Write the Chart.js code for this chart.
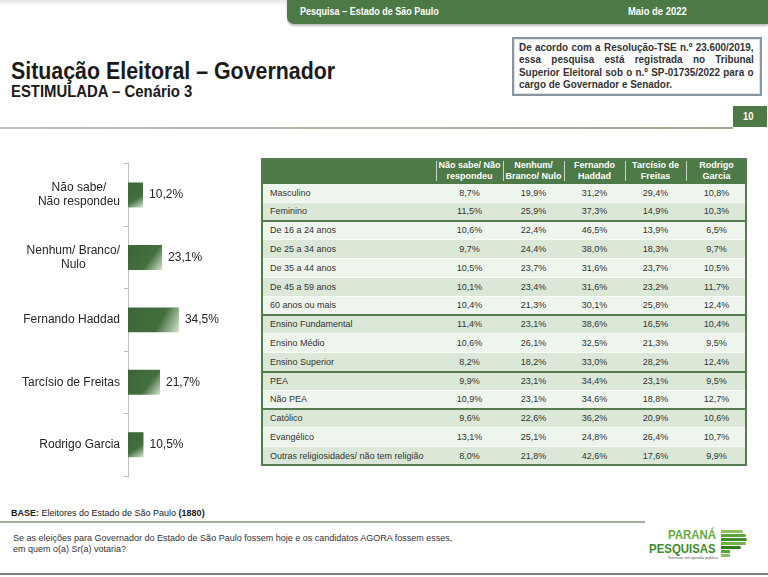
<!DOCTYPE html>
<html lang="pt-BR">
<head>
<meta charset="utf-8">
<script src="https://cdn.jsdelivr.net/npm/chart.js@4.4.1/dist/chart.umd.min.js"></script>
<style>
  html, body { margin:0; padding:0; }
  body { width:768px; height:577px; position:relative; overflow:hidden; background:#fff;
         font-family:"Liberation Sans", Arial, sans-serif; color:#262626; }
  .abs { position:absolute; }
  .nar { position:absolute; white-space:nowrap; transform:scaleX(0.82); transform-origin:left top; }
  .bx { position:absolute; white-space:nowrap; font-size:11px; font-weight:bold; line-height:11px; color:#333;
        transform:scaleX(0.9); transform-origin:left top; }
</style>
</head>
<body>
<!-- top -->
<div class="abs" style="left:0;top:0;width:768px;height:6px;background:linear-gradient(#e4e4e4,#fff);"></div>
<div class="abs" style="left:287px;top:0;width:481px;height:24px;background:#4d7946;border-bottom-left-radius:7px;box-shadow:0 2px 2px rgba(0,0,0,0.25);"></div>
<div class="nar" style="left:300px;top:5px;font-size:11px;font-weight:bold;color:#fff;line-height:13px;">Pesquisa – Estado de São Paulo</div>
<div class="nar" style="left:628px;top:5px;font-size:11.5px;font-weight:bold;color:#fff;line-height:13px;">Maio de 2022</div>

<div class="abs" style="left:11px;top:59px;font-size:24px;font-weight:bold;color:#1a1a1a;line-height:24px;white-space:nowrap;transform:scaleX(0.89);transform-origin:left top;">Situação Eleitoral – Governador</div>
<div class="abs" style="left:11px;top:84px;font-size:16px;font-weight:bold;color:#1a1a1a;line-height:16px;white-space:nowrap;transform:scaleX(0.93);transform-origin:left top;">ESTIMULADA – Cenário 3</div>

<div class="abs" style="left:512px;top:37px;width:250px;height:59px;box-sizing:border-box;border:2px solid #8894a0;box-shadow:inset 0 0 0 1px #dde2e7;"></div>
<div id="boxtext"></div>

<div class="abs" style="left:733px;top:106px;width:34px;height:21px;background:#4d7946;"></div>
<div class="nar" style="left:743px;top:110px;font-size:11.5px;font-weight:bold;color:#fff;line-height:13px;">10</div>
<div class="abs" style="left:0;top:127px;width:733px;height:2px;background:linear-gradient(to right,#bcc5b5,#9ca892);"></div>

<canvas id="c" width="260" height="330" style="position:absolute;left:0;top:150px;"></canvas>

<div id="tbl"></div>

<div class="abs" style="left:11px;top:508px;font-size:9px;line-height:11px;color:#1a1a1a;white-space:nowrap;"><b>BASE:</b> Eleitores do Estado de São Paulo <b>(1880)</b></div>
<div class="abs" style="left:0;top:521px;width:645px;height:2px;background:#a3b09a;"></div>
<div class="abs" style="left:13px;top:533px;font-size:9px;line-height:11px;color:#333;white-space:nowrap;">Se as eleições para Governador do Estado de São Paulo fossem hoje e os candidatos AGORA fossem esses,<br>em quem o(a) Sr(a) votaria?</div>

<!-- logo -->
<div class="abs" style="left:668px;top:528.5px;font-size:13px;font-weight:bold;color:#69a846;line-height:11px;white-space:nowrap;transform:scaleX(0.88);transform-origin:left top;">PARANÁ</div>
<div class="abs" style="left:649px;top:543px;font-size:13px;font-weight:bold;color:#3f8a2c;line-height:11px;white-space:nowrap;transform:scaleX(0.88);transform-origin:left top;">PESQUISAS</div>
<div class="abs" style="left:668px;top:556px;font-size:4px;line-height:4px;color:#555;white-space:nowrap;">Sucesso em opinião pública.</div>
<div class="abs" style="left:721px;top:530px;width:22px;height:3px;background:#8cc063;border-radius:0 2px 2px 0;"></div>
<div class="abs" style="left:721px;top:534px;width:25px;height:3px;background:#5aa23a;border-radius:0 3px 3px 0;"></div>
<div class="abs" style="left:721px;top:538px;width:26px;height:3px;background:#3f8a2c;border-radius:0 3px 3px 0;"></div>
<div class="abs" style="left:721px;top:542px;width:25px;height:3px;background:#74b24f;border-radius:0 3px 3px 0;"></div>
<div class="abs" style="left:721px;top:546px;width:20px;height:3px;background:#2f7a24;border-radius:0 2px 2px 0;"></div>
<div class="abs" style="left:721px;top:550px;width:9px;height:3px;background:#5aa23a;"></div>
<div class="abs" style="left:721px;top:554px;width:9px;height:3px;background:#8cc063;"></div>

<div class="abs" style="left:0;top:573px;width:768px;height:2px;background:#7f7f7f;"></div>

<script>
// ---------- bar chart data ----------
const categories = [["Não sabe/", "Não respondeu"], ["Nenhum/ Branco/", "Nulo"], ["Fernando Haddad"], ["Tarcísio de Freitas"], ["Rodrigo Garcia"]];
const totals = [10.2, 23.1, 34.5, 21.7, 10.5];

// ---------- table data ----------
const colHeaders = [["Não sabe/ Não", "respondeu"], ["Nenhum/", "Branco/ Nulo"], ["Fernando", "Haddad"], ["Tarcísio de", "Freitas"], ["Rodrigo", "Garcia"]];
const segments = ["Masculino", "Feminino", "De 16 a 24 anos", "De 25 a 34 anos", "De 35 a 44 anos", "De 45 a 59 anos", "60 anos ou mais",
  "Ensino Fundamental", "Ensino Médio", "Ensino Superior", "PEA", "Não PEA", "Católico", "Evangélico", "Outras religiosidades/ não tem religião"];
const naoSabe  = [8.7, 11.5, 10.6, 9.7, 10.5, 10.1, 10.4, 11.4, 10.6, 8.2, 9.9, 10.9, 9.6, 13.1, 8.0];
const nenhum   = [19.9, 25.9, 22.4, 24.4, 23.7, 23.4, 21.3, 23.1, 26.1, 18.2, 23.1, 23.1, 22.6, 25.1, 21.8];
const haddad   = [31.2, 37.3, 46.5, 38.0, 31.6, 31.6, 30.1, 38.6, 32.5, 33.0, 34.4, 34.6, 36.2, 24.8, 42.6];
const tarcisio = [29.4, 14.9, 13.9, 18.3, 23.7, 23.2, 25.8, 16.5, 21.3, 28.2, 23.1, 18.8, 20.9, 26.4, 17.6];
const garcia   = [10.8, 10.3, 6.5, 9.7, 10.5, 11.7, 12.4, 10.4, 9.5, 12.4, 9.5, 12.7, 10.6, 10.7, 9.9];
const groupEnds = [1, 6, 9, 11];

const boxLines = ["De acordo com a Resolução-TSE n.º 23.600/2019,", "essa pesquisa está registrada no Tribunal",
  "Superior Eleitoral sob o n.º SP-01735/2022 para o", "cargo de Governador e Senador."];

const fmt = v => v.toFixed(1).replace('.', ',') + '%';

// ---------- registration box (justified lines) ----------
(function buildBox() {
  const host = document.getElementById('boxtext');
  const left = 519, top = 42, lh = 12.4, target = 235 / 0.9;
  boxLines.forEach((t, k) => {
    const d = document.createElement('div');
    d.className = 'bx';
    d.style.left = left + 'px';
    d.style.top = (top + k * lh) + 'px';
    d.textContent = t;
    host.appendChild(d);
    if (k < boxLines.length - 1) {
      const w = d.offsetWidth;
      const n = (t.match(/ /g) || []).length;
      d.style.wordSpacing = ((target - w) / n) + 'px';
    }
  });
})();

// ---------- table layout ----------
(function buildTable() {
  const host = document.getElementById('tbl');
  const X0 = 261, Y0 = 158, HH = 25.5, RH = 18.8;
  const colX = [261, 436, 503, 564, 625, 686, 747];
  const W = colX[6] - X0;
  const shade = ['L','D','L','D','L','D','L','D','L','D','D','L','D','L','D'];
  const cols = [naoSabe, nenhum, haddad, tarcisio, garcia];
  const add = (style, html) => { const d = document.createElement('div'); d.className = 'abs'; d.style.cssText = style; if (html != null) d.innerHTML = html; host.appendChild(d); return d; };

  add(`left:${X0}px;top:${Y0}px;width:${W}px;height:${HH}px;background:#4e7a47;`);
  for (let j = 0; j < 5; j++) {
    add(`left:${colX[j+1]-0.5}px;top:${Y0+3}px;width:1px;height:${HH-6}px;background:#c9d5c5;`);
    add(`left:${colX[j+1]}px;top:${Y0 + (HH-21)/2}px;width:${colX[j+2]-colX[j+1]}px;text-align:center;font-size:9px;line-height:10.5px;font-weight:bold;color:#fff;white-space:nowrap;`,
      colHeaders[j].join('<br>'));
  }
  segments.forEach((s, i) => {
    const y = Y0 + HH + i * RH;
    add(`left:${X0}px;top:${y}px;width:${W}px;height:${RH}px;background:${shade[i]==='L' ? '#eef5ec' : '#dbe8d7'};`);
    if (i > 0) add(`left:${X0}px;top:${y-0.5}px;width:${W}px;height:1px;background:#fafcf9;`);
    add(`left:${X0+9}px;top:${y}px;line-height:${RH}px;font-size:9px;color:#333;white-space:nowrap;`, s);
    cols.forEach((arr, j) => {
      add(`left:${colX[j+1]}px;top:${y}px;width:${colX[j+2]-colX[j+1]}px;line-height:${RH}px;text-align:center;font-size:9px;color:#333;`, fmt(arr[i]));
    });
  });
  groupEnds.forEach(g => {
    const y = Y0 + HH + (g + 1) * RH;
    add(`left:${X0}px;top:${y-1}px;width:${W}px;height:2px;background:#557b4f;`);
  });
  const H = HH + segments.length * RH;
  add(`left:${X0}px;top:${Y0}px;width:${W}px;height:${H}px;box-sizing:border-box;border:2px solid #557b4f;`);
})();

// ---------- chart ----------
const valueLabels = {
  id: 'valueLabels',
  afterDatasetsDraw(chart) {
    const c = chart.ctx;
    const meta = chart.getDatasetMeta(0);
    c.save();
    c.font = '12px "Liberation Sans", Arial, sans-serif';
    c.fillStyle = '#262626';
    c.textAlign = 'left';
    c.textBaseline = 'middle';
    meta.data.forEach((el, i) => c.fillText(fmt(chart.data.datasets[0].data[i]), el.x + 6, el.y));
    c.restore();
  }
};
const catLabels = {
  id: 'catLabels',
  afterDraw(chart) {
    const c = chart.ctx, ys = chart.scales.y;
    const right = chart.chartArea.left - 8;
    c.save();
    c.font = '12px "Liberation Sans", Arial, sans-serif';
    c.fillStyle = '#262626';
    c.textAlign = 'center';
    c.textBaseline = 'middle';
    chart.data.labels.forEach((lines, i) => {
      const yc = ys.getPixelForValue(i);
      const w = Math.max(...lines.map(l => c.measureText(l).width));
      const cx = right - w / 2;
      lines.forEach((l, k) => c.fillText(l, cx, yc + (k - (lines.length - 1) / 2) * 14));
    });
    c.restore();
  }
};

new Chart(document.getElementById('c'), {
  type: 'bar',
  data: {
    labels: categories,
    datasets: [{
      data: totals,
      barPercentage: 0.4,
      categoryPercentage: 1,
      borderWidth: 0,
      backgroundColor: (ctx) => {
        const chart = ctx.chart, sc = chart.scales;
        if (ctx.type !== 'data' || !sc.x || !sc.y || !chart.chartArea) return '#3f6b3b';
        const x0 = sc.x.getPixelForValue(0), x1 = sc.x.getPixelForValue(ctx.raw);
        const yc = sc.y.getPixelForValue(ctx.dataIndex), h = 12.5;
        const g = chart.ctx.createLinearGradient(x0, yc - h, x1, yc + h);
        g.addColorStop(0, '#3b6637');
        g.addColorStop(0.62, '#436f3f');
        g.addColorStop(1, '#d4e4cd');
        return g;
      }
    }]
  },
  options: {
    indexAxis: 'y',
    responsive: false,
    animation: false,
    layout: { padding: { left: 124, top: 13.75, right: 73, bottom: 4 } },
    plugins: { legend: { display: false }, tooltip: { enabled: false } },
    scales: {
      x: { display: false, min: 0, max: 40 },
      y: {
        grid: { display: true, drawOnChartArea: false, drawTicks: true, tickLength: 4, color: '#bfbfbf', offset: true },
        border: { display: true, color: '#bfbfbf', width: 1 },
        ticks: { display: false }
      }
    }
  },
  plugins: [valueLabels, catLabels]
});
</script>
</body>
</html>
